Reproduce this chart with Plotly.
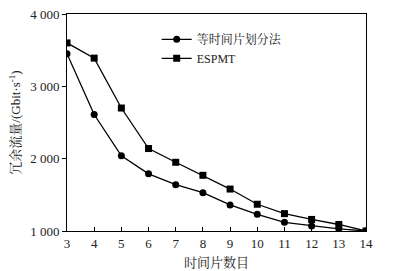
import plotly.graph_objects as go

x_vals = [3, 4, 5, 6, 7, 8, 9, 10, 11, 12, 13, 14]
equal_slice = [3450, 2610, 2040, 1790, 1640, 1530, 1360, 1230, 1120, 1070, 1030, 1000]
espmt = [3600, 3390, 2700, 2140, 1950, 1770, 1580, 1370, 1240, 1160, 1090, 1000]
y_ticks = [1000, 2000, 3000, 4000]
y_tick_text = ["1 000", "2 000", "3 000", "4 000"]

font_fam = "Liberation Serif, Noto Serif CJK SC, Noto Sans CJK SC, serif"

fig = go.Figure()
fig.add_trace(go.Scatter(x=x_vals, y=equal_slice, mode="lines+markers", name="等时间片划分法",
                         line=dict(color="black", width=1.3),
                         marker=dict(symbol="circle", size=7, color="black")))
fig.add_trace(go.Scatter(x=x_vals, y=espmt, mode="lines+markers", name="ESPMT",
                         line=dict(color="black", width=1.3),
                         marker=dict(symbol="square", size=7, color="black")))

fig.update_layout(
    width=395, height=271,
    margin=dict(l=67, r=29, t=14, b=40, autoexpand=False),
    paper_bgcolor="white", plot_bgcolor="white",
    font=dict(family=font_fam, size=13, color="#222"),
    showlegend=True,
    legend=dict(x=0.3, y=0.95, xanchor="left", yanchor="top", bgcolor="rgba(0,0,0,0)",
                font=dict(size=12, family="Liberation Serif, Noto Serif CJK SC, Noto Sans CJK SC, serif"),
                tracegroupgap=0, itemwidth=30),
    xaxis=dict(range=[3, 14], tickvals=x_vals, showline=True, linecolor="black", linewidth=1,
               mirror=True, ticks="inside", ticklen=4, tickcolor="black", showgrid=False,
               zeroline=False, automargin=False,
               title=dict(text="时间片数目", standoff=8, font=dict(size=13))),
    yaxis=dict(range=[1000, 4000], tickvals=y_ticks, ticktext=y_tick_text, showline=True,
               linecolor="black", linewidth=1, mirror=True, ticks="outside", ticklen=4,
               tickcolor="black", showgrid=False, zeroline=False, automargin=False,
               title=dict(text="冗余流量/(Gbit·s<sup>-1</sup>)", standoff=6, font=dict(size=13))),
)

fig.write_html("out.html", config={"displayModeBar": False},
               post_script="document.body.style.margin='0';document.body.style.padding='0';window.dispatchEvent(new Event('resize'));")
